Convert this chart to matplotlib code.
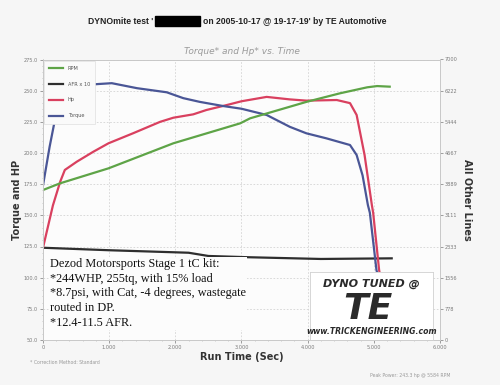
import matplotlib
matplotlib.use("Agg")
import matplotlib.pyplot as plt
from matplotlib.patches import Rectangle
import numpy as np

# ---------------- data ----------------
torque_t = [0.0, 0.1, 0.2, 0.3, 0.5, 0.83, 1.04, 1.42, 1.87, 2.12, 2.37, 2.72, 3.0, 3.38, 3.73, 3.98, 4.28, 4.64, 4.74, 4.83, 4.91, 4.94, 5.04, 5.1]
torque_v = [174, 205, 232, 248, 254, 255.3, 256, 252, 248.7, 244, 241, 237.7, 235.5, 230.5, 221, 215.8, 211.8, 206.4, 198.4, 182, 158.3, 152, 106, 95]

hp_t = [0.0, 0.15, 0.26, 0.33, 0.51, 0.76, 0.99, 1.36, 1.77, 1.97, 2.27, 2.47, 2.78, 3.0, 3.38, 3.73, 3.98, 4.44, 4.64, 4.74, 4.86, 4.97, 4.99, 5.08, 5.12]
hp_v = [124, 158, 177, 186.4, 193, 201, 207.8, 215.8, 225, 228.3, 231, 234.5, 238.5, 241.5, 245, 243, 242, 242.5, 240, 230.5, 198.4, 158.3, 152, 106, 95]

afr_t = [0.0, 1.0, 2.2, 2.5, 3.1, 4.2, 5.27]
afr_v = [124, 122, 120, 117.4, 116.4, 115, 115.5]   # AFR x 10

rpm_t = [0.0, 0.26, 0.99, 1.97, 2.98, 3.13, 3.98, 4.49, 4.9, 5.05, 5.24]
rpm_v = [3743, 3911, 4284, 4909, 5407, 5532, 5942, 6157, 6306, 6337, 6322]

left_ticks = [50, 75, 100, 125, 150, 175, 200, 225, 250, 275]
right_ticks = [0, 778, 1556, 2333, 3111, 3889, 4667, 5444, 6222, 7000]
x_ticks = [0, 1, 2, 3, 4, 5, 6]
x_labels = ["0", "1.000", "2.000", "3.000", "4.000", "5.000", "6.000"]

note_text = ("Dezod Motorsports Stage 1 tC kit:\n"
             "*244WHP, 255tq, with 15% load\n"
             "*8.7psi, with Cat, -4 degrees, wastegate\n"
             "routed in DP.\n"
             "*12.4-11.5 AFR.")

# ---------------- colours ----------------
c_rpm = "#5ea447"
c_afr = "#2e2e2e"
c_hp = "#d9405f"
c_tq = "#4a5696"
c_tick = "#7a7a7a"

W, H = 500, 385
fig = plt.figure(figsize=(W / 100, H / 100), dpi=100)
fig.patch.set_facecolor("#f6f6f6")

L, R, B, T = 43, 440, 340, 59.5
ax = fig.add_axes([L / W, 1 - B / H, (R - L) / W, (B - T) / H])
ax.set_facecolor("#fcfcfc")
ax2 = ax.twinx()

ax.set_xlim(0, 6)
ax.set_ylim(50, 275)
ax2.set_ylim(0, 7000)

ax.set_xticks(x_ticks)
ax.set_xticklabels(x_labels)
ax.set_yticks(left_ticks)
ax.set_yticklabels([f"{v:.1f}" for v in left_ticks])
ax2.set_yticks(right_ticks)
ax2.set_yticklabels([str(v) for v in right_ticks])
ax.set_xticks(np.arange(0, 6.01, 0.2), minor=True)
ax.set_yticks(np.arange(50, 275.1, 5), minor=True)

for a in (ax, ax2):
    a.tick_params(labelsize=3.6, colors=c_tick, length=2, width=0.5, pad=1.5)
    a.tick_params(which="minor", length=1, width=0.4, colors="#aaaaaa")
    for s in a.spines.values():
        s.set_color("#c8c8c8")
        s.set_linewidth(0.6)

ax.grid(True, which="major", color="#d4d4d4", linestyle=(0, (2, 2)), linewidth=0.6)
ax.set_axisbelow(True)

lw = 1.6
l_rpm, = ax2.plot(rpm_t, rpm_v, color=c_rpm, lw=lw, label="RPM")
l_afr, = ax.plot(afr_t, afr_v, color=c_afr, lw=lw, label="AFR x 10")
l_hp, = ax.plot(hp_t, hp_v, color=c_hp, lw=lw, label="Hp")
l_tq, = ax.plot(torque_t, torque_v, color=c_tq, lw=lw, label="Torque")

leg = ax2.legend(handles=[l_rpm, l_afr, l_hp, l_tq], loc="upper left",
                 bbox_to_anchor=(0.0, 1.0), fontsize=3.6, frameon=True,
                 fancybox=False, borderpad=1.0, labelspacing=2.2,
                 handlelength=2.8, handletextpad=1.0, borderaxespad=0.2)
leg.get_frame().set_edgecolor("#e0e0e0")
leg.get_frame().set_facecolor("#fafafa")
leg.get_frame().set_linewidth(0.5)
leg.get_frame().set_alpha(1)
for t in leg.get_texts():
    t.set_color("#555555")
leg.set_zorder(20)

# note text
fig.text(50 / W, 1 - 258 / H, note_text, family="Liberation Serif", fontsize=8.8,
         va="top", ha="left", linespacing=1.3, color="#111111",
         bbox=dict(facecolor="#fcfcfc", edgecolor="none", pad=0.5))

# logo box
lx0, ly0, lx1, ly1 = 310, 272, 433, 340
lax = fig.add_axes([lx0 / W, 1 - ly1 / H, (lx1 - lx0) / W, (ly1 - ly0) / H], zorder=30)
lax.set_xlim(0, 1)
lax.set_ylim(0, 1)
lax.set_xticks([])
lax.set_yticks([])
lax.set_facecolor("white")
for s in lax.spines.values():
    s.set_color("#d0d0d0")
    s.set_linewidth(0.6)
lax.text(0.5, 0.82, "DYNO TUNED @", ha="center", va="center", fontsize=8,
         fontweight="bold", style="italic", color="#2a2a2a")
lax.text(0.47, 0.45, "TE", ha="center", va="center", fontsize=26,
         fontweight="bold", style="italic", color="#2a2a2a")
lax.text(0.5, 0.12, "www.TRICKENGINEERING.com", ha="center", va="center",
         fontsize=5.6, fontweight="bold", style="italic", color="#2a2a2a")

# titles and labels
tfont = dict(family="Liberation Sans", fontsize=6.2, fontweight="bold", color="#222222")
fig.text(153 / W, 1 - 21 / H, "DYNOmite test '", ha="right", va="center", **tfont)
fig.patches.append(Rectangle((155 / W, 1 - 26 / H), 45 / W, 10 / H,
                             transform=fig.transFigure, color="black"))
fig.text(203 / W, 1 - 21 / H, "on 2005-10-17 @ 19-17-19' by TE Automotive",
         ha="left", va="center", **tfont)
fig.text(242 / W, 1 - 51 / H, "Torque* and Hp* vs. Time", ha="center", va="center",
         fontsize=6.5, style="italic", color="#9a9a9a")

fig.text(17 / W, 1 - 200 / H, "Torque and HP", rotation=90, ha="center", va="center",
         fontsize=7, fontweight="bold", color="#333333")
fig.text(467 / W, 1 - 200 / H, "All Other Lines", rotation=-90, ha="center", va="center",
         fontsize=7, fontweight="bold", color="#333333")
fig.text(242 / W, 1 - 357 / H, "Run Time (Sec)", ha="center", va="center",
         fontsize=7, fontweight="bold", color="#333333")
fig.text(30 / W, 1 - 362 / H, "* Correction Method: Standard", ha="left", va="center",
         fontsize=3.3, color="#999999")
fig.text(450 / W, 1 - 376 / H, "Peak Power: 243.3 hp @ 5584 RPM", ha="right", va="center",
         fontsize=3.3, color="#999999")

fig.savefig("out.png", dpi=100, facecolor=fig.get_facecolor())
